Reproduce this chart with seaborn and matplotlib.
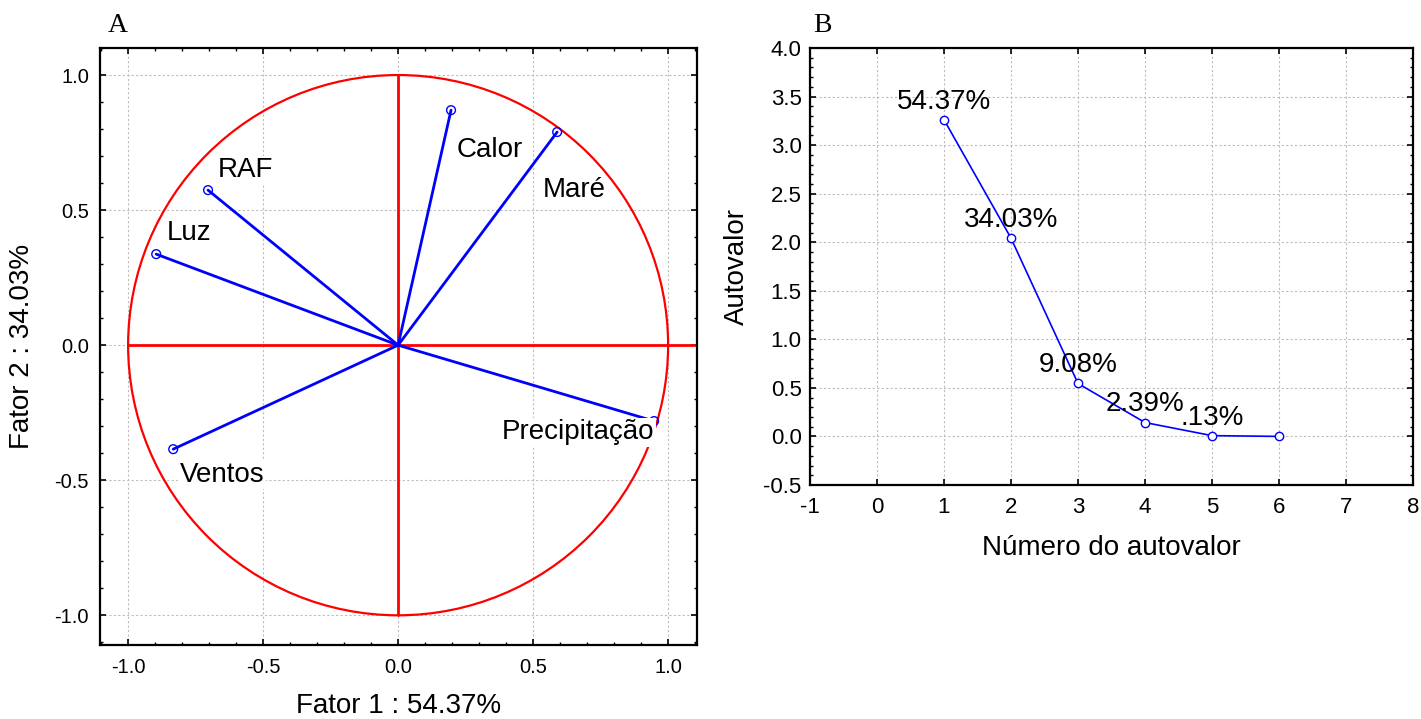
import numpy as np
import pandas as pd
import matplotlib
matplotlib.use("Agg")
import matplotlib.pyplot as plt
from matplotlib.patches import Circle
from matplotlib.ticker import MultipleLocator, FixedLocator, FormatStrFormatter
import seaborn as sns

# ---- Data ----
variables = ["Calor", "Maré", "RAF", "Luz", "Ventos", "Precipitação"]
fator1 = [0.196, 0.589, -0.704, -0.896, -0.833, 0.948]
fator2 = [0.870, 0.789, 0.574, 0.337, -0.385, -0.281]
label_x = [0.341, 0.652, -0.567, -0.774, -0.652, 0.667]
label_y = [0.722, 0.574, 0.648, 0.415, -0.481, -0.322]

eig_num = [1, 2, 3, 4, 5, 6]
eig_val = [3.262, 2.042, 0.545, 0.143, 0.008, 0.0]
eig_pct = ["54.37%", "34.03%", "9.08%", "2.39%", ".13%", ""]

x_label_A = "Fator 1 : 54.37%"
y_label_A = "Fator 2 : 34.03%"
x_label_B = "Número do autovalor"
y_label_B = "Autovalor"

sns.set_style("ticks")
plt.rcParams["font.family"] = ["Liberation Sans", "DejaVu Sans"]
plt.rcParams["axes.unicode_minus"] = False
plt.rcParams["text.color"] = "black"
plt.rcParams["axes.labelcolor"] = "black"
plt.rcParams["xtick.color"] = "black"
plt.rcParams["ytick.color"] = "black"
plt.rcParams["xtick.labelcolor"] = "black"
plt.rcParams["ytick.labelcolor"] = "black"

fig = plt.figure(figsize=(14.21, 7.19), dpi=100)
axA = fig.add_axes([0.0704, 0.1029, 0.4201, 0.8303])
axB = fig.add_axes([0.5700, 0.3255, 0.4244, 0.6077])

grid_kw = dict(color="#bdbdbd", linestyle=(0, (2, 2)), linewidth=0.8)

def style_axes(ax, labelsize):
    for s in ax.spines.values():
        s.set_linewidth(1.6)
        s.set_color("black")
        s.set_visible(True)
    ax.tick_params(which="both", direction="in", top=True, right=True,
                   color="black", labelcolor="black", labelsize=labelsize)
    ax.tick_params(which="major", length=4, width=1.2)
    ax.tick_params(which="minor", length=2.5, width=1.0)
    ax.grid(True, which="major", **grid_kw)
    ax.set_axisbelow(True)

# ---- Panel A ----
axA.set_xlim(-1.104, 1.107)
axA.set_ylim(-1.11, 1.10)
axA.xaxis.set_major_locator(FixedLocator([-1.0, -0.5, 0.0, 0.5, 1.0]))
axA.yaxis.set_major_locator(FixedLocator([-1.0, -0.5, 0.0, 0.5, 1.0]))
axA.xaxis.set_minor_locator(MultipleLocator(0.1))
axA.yaxis.set_minor_locator(MultipleLocator(0.1))
axA.xaxis.set_major_formatter(FormatStrFormatter("%.1f"))
axA.yaxis.set_major_formatter(FormatStrFormatter("%.1f"))
style_axes(axA, 14.5)
axA.tick_params(axis="x", pad=9)
axA.tick_params(axis="y", pad=8)

axA.add_patch(Circle((0, 0), 1.0, fill=False, edgecolor="red", linewidth=1.6, zorder=2))
axA.plot([-1.0, 1.107], [0, 0], color="red", linewidth=2.0, zorder=2)
axA.plot([0, 0], [-1.0, 1.0], color="red", linewidth=2.0, zorder=2)

for x, y in zip(fator1, fator2):
    axA.plot([0, x], [0, y], color="blue", linewidth=2.0, zorder=3)
dfA = pd.DataFrame({"f1": fator1, "f2": fator2, "var": variables})
sns.scatterplot(data=dfA, x="f1", y="f2", ax=axA, s=40, marker="o",
                facecolor="none", edgecolor="blue", linewidth=1.0, zorder=4)

for name, lx, ly in zip(variables, label_x, label_y):
    axA.text(lx, ly, name, fontsize=20, ha="center", va="center", zorder=5, color="black",
             bbox=dict(boxstyle="square,pad=0.05", facecolor="white", edgecolor="none"))

axA.set_xlabel(x_label_A, fontsize=20, labelpad=12, color="black")
axA.set_ylabel(y_label_A, fontsize=20, labelpad=14, color="black")

# ---- Panel B ----
axB.set_xlim(-1, 8)
axB.set_ylim(-0.5, 4.0)
axB.xaxis.set_major_locator(MultipleLocator(1))
axB.yaxis.set_major_locator(MultipleLocator(0.5))
axB.yaxis.set_minor_locator(MultipleLocator(0.1))
axB.yaxis.set_major_formatter(FormatStrFormatter("%.1f"))
style_axes(axB, 16)
axB.tick_params(axis="x", pad=9)
axB.tick_params(axis="y", pad=6)

dfB = pd.DataFrame({"n": eig_num, "v": eig_val})
sns.lineplot(data=dfB, x="n", y="v", ax=axB, color="blue", linewidth=1.2,
             marker="o", markersize=6, markerfacecolor="white",
             markeredgecolor="blue", markeredgewidth=1.0, zorder=3)
for n, v, t in zip(eig_num, eig_val, eig_pct):
    if t:
        axB.annotate(t, (n, v), xytext=(0, 13), textcoords="offset points",
                     ha="center", va="center", fontsize=20, zorder=4, color="black")

axB.set_xlabel(x_label_B, fontsize=20, labelpad=12, color="black")
axB.set_ylabel(y_label_B, fontsize=20, labelpad=10, color="black")

fig.text(118 / 1421, 1 - 25 / 719, "A", fontsize=20, family=["Liberation Serif", "DejaVu Serif"],
         ha="center", va="center", color="black")
fig.text(822 / 1421, 1 - 25 / 719, "B", fontsize=20, family=["Liberation Serif", "DejaVu Serif"],
         ha="center", va="center", color="black")

fig.savefig("out.png", dpi=100)
